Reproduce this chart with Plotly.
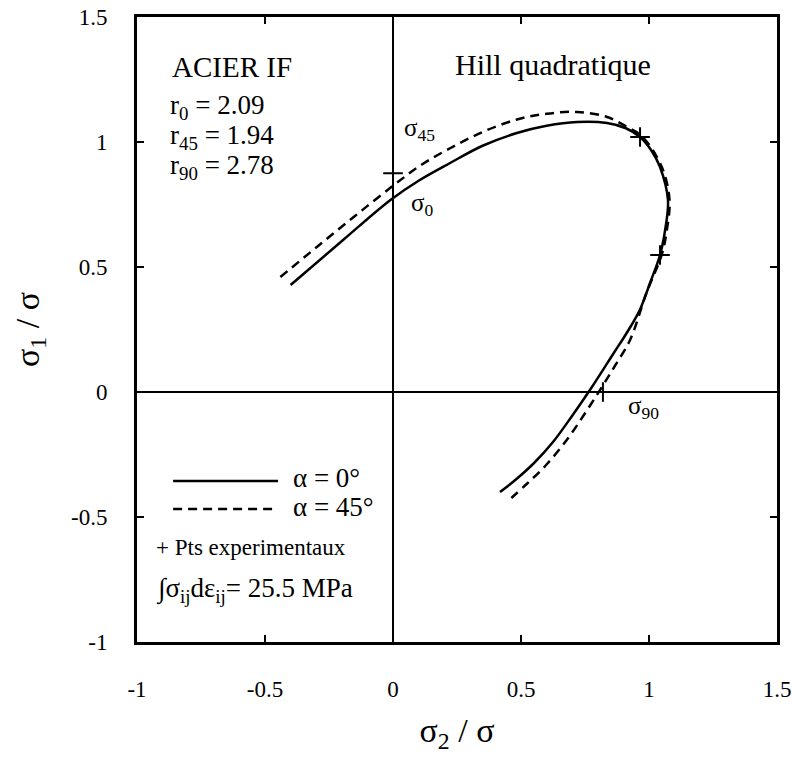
import plotly.graph_objects as go

# Hill quadratique yield loci, ACIER IF
x_alpha0 = [-0.40, -0.195, -0.01, 0.10, 0.223, 0.35, 0.484, 0.60, 0.72, 0.836, 0.91, 0.965,
            1.01, 1.043, 1.074, 1.063, 1.043, 1.004, 0.965, 0.93, 0.90, 0.865, 0.777, 0.70, 0.625, 0.55, 0.48, 0.418]
y_alpha0 = [0.428, 0.608, 0.768, 0.845, 0.916, 0.985, 1.036, 1.065, 1.08, 1.076, 1.055, 1.02,
            0.965, 0.90, 0.768, 0.648, 0.548, 0.436, 0.33, 0.265, 0.215, 0.16, 0.02, -0.095, -0.20, -0.285, -0.35, -0.40]

x_alpha45 = [-0.44, -0.30, -0.15, 0.0, 0.11, 0.223, 0.35, 0.484, 0.60, 0.72, 0.836, 0.914, 0.975,
             1.05, 1.08, 1.07, 1.05, 0.99, 0.926, 0.87, 0.816, 0.75, 0.68, 0.60, 0.52, 0.445]
y_alpha45 = [0.46, 0.578, 0.703, 0.825, 0.908, 0.975, 1.04, 1.09, 1.113, 1.12, 1.10, 1.06, 1.02,
             0.90, 0.77, 0.65, 0.55, 0.396, 0.208, 0.11, 0.02, -0.085, -0.19, -0.29, -0.37, -0.44]

x_exp = [0.0, 0.965, 1.043, 0.82]
y_exp = [0.875, 1.02, 0.548, 0.0]

tick_vals = [-1, -0.5, 0, 0.5, 1, 1.5]
tick_text = ["-1", "-0.5", "0", "0.5", "1", "1.5"]

FONT = "Liberation Serif"

fig = go.Figure()

fig.add_trace(go.Scatter(x=x_alpha0, y=y_alpha0, mode="lines", line=dict(color="black", width=2.5, shape="spline"),
                         showlegend=False, hoverinfo="skip"))
fig.add_trace(go.Scatter(x=x_alpha45, y=y_alpha45, mode="lines",
                         line=dict(color="black", width=2.5, dash="9px,6px", shape="spline"),
                         showlegend=False, hoverinfo="skip"))
fig.add_trace(go.Scatter(x=x_exp, y=y_exp, mode="markers",
                         marker=dict(symbol="cross-thin", size=14, line=dict(width=2, color="black")),
                         showlegend=False))

# legend samples drawn inside the frame
fig.add_shape(type="line", x0=-0.859, x1=-0.449, y0=-0.356, y1=-0.356, line=dict(color="black", width=2.5))
fig.add_shape(type="line", x0=-0.859, x1=-0.449, y0=-0.468, y1=-0.468, line=dict(color="black", width=2.5, dash="9px,6px"))

notes = [
    (-0.87, 1.30, "ACIER IF", 29),
    (-0.88, 1.14, "r<sub>0</sub> = 2.09", 27),
    (-0.88, 1.02, "r<sub>45</sub> = 1.94", 27),
    (-0.88, 0.90, "r<sub>90</sub> = 2.78", 27),
    (0.235, 1.31, "Hill quadratique", 30),
    (0.035, 1.05, "σ<sub>45</sub>", 25),
    (0.062, 0.75, "σ<sub>0</sub>", 25),
    (0.91, -0.06, "σ<sub>90</sub>", 25),
    (-0.40, -0.345, "α = 0°", 27),
    (-0.40, -0.458, "α = 45°", 27),
    (-0.935, -0.62, "+ Pts experimentaux", 23),
    (-0.935, -0.79, "∫σ<sub>ij</sub>dε<sub>ij</sub>= 25.5 MPa", 27),
]
for x, y, t, s in notes:
    fig.add_annotation(x=x, y=y, text=t, showarrow=False, xanchor="left", yanchor="middle",
                       font=dict(family=FONT, size=s, color="black"))

axis_common = dict(range=[-1, 1.5], tickvals=tick_vals, ticktext=tick_text, ticks="inside", ticklen=7,
                   tickwidth=2, tickcolor="black", showline=True, linecolor="black", linewidth=3, mirror="ticks",
                   showgrid=False, zeroline=True, zerolinecolor="black", zerolinewidth=1.6, automargin=False,
                   tickfont=dict(family=FONT, size=23, color="black"))

fig.update_xaxes(**axis_common, ticklabelstandoff=24,
                 title=dict(text="σ<sub>2</sub> / σ", font=dict(family=FONT, size=34, color="black"), standoff=18))
fig.update_yaxes(**axis_common, ticklabelstandoff=22,
                 title=dict(text="σ<sub>1</sub> / σ", font=dict(family=FONT, size=34, color="black"), standoff=22))

fig.update_layout(width=792, height=765, margin=dict(l=137, r=15, t=17, b=123),
                  plot_bgcolor="white", paper_bgcolor="white", showlegend=False)

# drop the browser's default 8px body margin so the figure fills the window
fig.write_html("out.html", config={"displayModeBar": False},
               post_script="document.body.style.margin='0';document.body.style.overflow='hidden';")
